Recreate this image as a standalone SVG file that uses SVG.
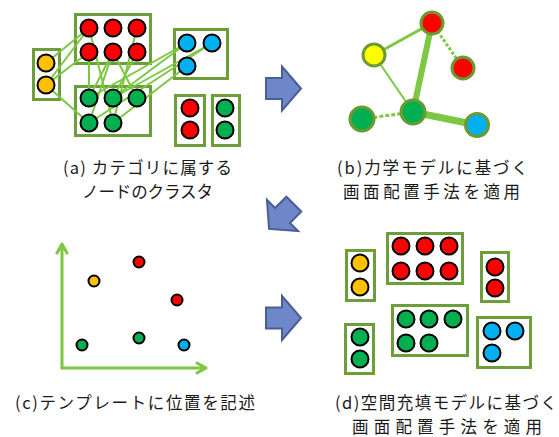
<svg xmlns="http://www.w3.org/2000/svg" width="559" height="437" viewBox="0 0 559 437">
<defs>
<style>
.box{fill:#fff;stroke:#6C9E3A;stroke-width:3}
.c{stroke:#000;stroke-width:2}
.cs{stroke:#000;stroke-width:2}
.r{fill:#FF0000}.y{fill:#FFC000}.b{fill:#00B0F0}.g{fill:#00B050}
.ln{stroke:#7DC843;stroke-width:2;fill:none}
.fc{stroke:#6A9A32;stroke-width:3}
.fe{stroke:#7DC843;fill:none}
.arr{fill:#6D87C8;stroke:#4A5E96;stroke-width:2;stroke-linejoin:miter}
.ax{stroke:#7DC843;stroke-width:3;fill:none;stroke-linecap:round;stroke-linejoin:round}
.t{font-family:"Noto Sans CJK JP","Noto Sans",sans-serif;font-size:16.5px;fill:#1a1a1a}
</style>
<polygon id="arrowShape" points="-16,-10.5 0,-10.5 0,-22 19,0 0,22 0,10.5 -16,10.5"/>
</defs>
<rect width="559" height="437" fill="#fff"/>

<!-- Panel (a) -->
<g id="panel-a">
<g id="a-boxes">
<rect class="box" x="75.5" y="14.5" width="75" height="49"/>
<rect class="box" x="33.5" y="49.5" width="26" height="50"/>
<rect class="box" x="174.5" y="29.5" width="53" height="49"/>
<rect class="box" x="75.5" y="86.5" width="75" height="49"/>
<rect class="box" x="175.5" y="95.5" width="29" height="50"/>
<rect class="box" x="212.5" y="95.5" width="27" height="50"/>
</g>
<g id="a-connectors">
<line class="ln" x1="46" y1="63" x2="89" y2="28" stroke-width="1.5"/>
<line class="ln" x1="46" y1="85" x2="89" y2="28"/>
<line class="ln" x1="46" y1="85" x2="89" y2="52" stroke-width="1.5"/>
<line class="ln" x1="46" y1="85" x2="89" y2="123"/>
<line class="ln" x1="89" y1="28" x2="113" y2="123"/>
<line class="ln" x1="89" y1="52" x2="89" y2="98"/>
<line class="ln" x1="113" y1="52" x2="89" y2="98"/>
<line class="ln" x1="113" y1="52" x2="137" y2="98" stroke-width="1.5"/>
<line class="ln" x1="113" y1="52" x2="89" y2="123"/>
<line class="ln" x1="137" y1="52" x2="113" y2="98"/>
<line class="ln" x1="137" y1="28" x2="113" y2="123"/>
<line class="ln" x1="187" y1="43" x2="89" y2="98"/>
<line class="ln" x1="187" y1="43" x2="113" y2="98"/>
<line class="ln" x1="212" y1="43" x2="113" y2="98"/>
<line class="ln" x1="212" y1="43" x2="89" y2="123" stroke-width="1.5"/>
<line class="ln" x1="187" y1="66" x2="113" y2="123" stroke-width="1.5"/>
</g>
<g id="a-nodes">
<circle class="c r" cx="89" cy="28" r="8.5"/><circle class="c r" cx="113" cy="28" r="8.5"/><circle class="c r" cx="137" cy="28" r="8.5"/>
<circle class="c r" cx="89" cy="52" r="8.5"/><circle class="c r" cx="113" cy="52" r="8.5"/><circle class="c r" cx="137" cy="52" r="8.5"/>
<circle class="c y" cx="46" cy="63" r="8.5"/><circle class="c y" cx="46" cy="85" r="8.5"/>
<circle class="c b" cx="187" cy="43" r="8.5"/><circle class="c b" cx="212" cy="43" r="8.5"/><circle class="c b" cx="187" cy="66" r="8.5"/>
<circle class="c g" cx="89" cy="98" r="8.5"/><circle class="c g" cx="113" cy="98" r="8.5"/><circle class="c g" cx="137" cy="98" r="8.5"/>
<circle class="c g" cx="89" cy="123" r="8.5"/><circle class="c g" cx="113" cy="123" r="8.5"/>
<circle class="c r" cx="190" cy="108" r="8.5"/><circle class="c r" cx="190" cy="130" r="8.5"/>
<circle class="c g" cx="225" cy="108" r="8.5"/><circle class="c g" cx="225" cy="130" r="8.5"/>
</g>
<text class="t" x="63" y="173.5" textLength="169">(a) カテゴリに属する</text>
<text class="t" x="82" y="197.5" textLength="131">ノードのクラスタ</text>
</g>

<!-- Panel (b) -->
<g id="panel-b">
<g id="b-connectors">
<line class="fe" x1="432" y1="23" x2="374" y2="55" stroke-width="3"/>
<line class="fe" x1="374" y1="55" x2="413" y2="112" stroke-width="2"/>
<line class="fe" x1="432" y1="23" x2="413" y2="112" stroke-width="6"/>
<line class="fe" x1="432" y1="23" x2="463" y2="68" stroke-width="3" stroke-dasharray="3 2"/>
<line class="fe" x1="413" y1="112" x2="362" y2="119" stroke-width="3" stroke-dasharray="4 2"/>
<line class="fe" x1="413" y1="112" x2="477" y2="125" stroke-width="7"/>
</g>
<g id="b-nodes">
<circle class="fc" cx="432" cy="23" r="11" fill="#FF0000"/>
<circle class="fc" cx="374" cy="55" r="11" fill="#FFFF00"/>
<circle class="fc" cx="463" cy="68" r="11" fill="#FF0000"/>
<circle class="fc" cx="413" cy="112" r="12" fill="#00B050"/>
<circle class="fc" cx="362" cy="119" r="12" fill="#00B050"/>
<circle class="fc" cx="477" cy="125" r="11.5" fill="#00B0F0"/>
</g>
<text class="t" x="337" y="173.5" textLength="191">(b)力学モデルに基づく</text>
<text class="t" x="343" y="197.5" textLength="177">画面配置手法を適用</text>
</g>

<!-- Transition arrows -->
<g id="arrows">
<use href="#arrowShape" class="arr" transform="translate(282,88.5)"/>
<use href="#arrowShape" class="arr" transform="translate(282.5,215.5) rotate(135)"/>
<use href="#arrowShape" class="arr" transform="translate(282,318)"/>
</g>

<!-- Panel (c) -->
<g id="panel-c">
<g id="c-axes">
<path class="ax" d="M62,368 V244 M57,253 L62,244 L67,253"/>
<path class="ax" d="M62,368 H206 M197,363 L206,368 L197,373"/>
</g>
<g id="c-nodes">
<circle class="cs y" cx="94" cy="281" r="5.5"/>
<circle class="cs r" cx="139" cy="262" r="5.5"/>
<circle class="cs r" cx="177" cy="300" r="5.5"/>
<circle class="cs g" cx="82" cy="345" r="5.5"/>
<circle class="cs g" cx="139" cy="338" r="5.5"/>
<circle class="cs b" cx="184" cy="345" r="5.5"/>
</g>
<text class="t" x="15" y="409" textLength="240">(c)テンプレートに位置を記述</text>
</g>

<!-- Panel (d) -->
<g id="panel-d">
<g id="d-boxes">
<rect class="box" x="346.5" y="250.5" width="28" height="50"/>
<rect class="box" x="387.5" y="233.5" width="75" height="50"/>
<rect class="box" x="481.5" y="252.5" width="27" height="49"/>
<rect class="box" x="345.5" y="324.5" width="28" height="49"/>
<rect class="box" x="392.5" y="305.5" width="75" height="50"/>
<rect class="box" x="477.5" y="317.5" width="53" height="50"/>
</g>
<g id="d-nodes">
<circle class="c y" cx="360" cy="263" r="8.5"/><circle class="c y" cx="360" cy="287" r="8.5"/>
<circle class="c r" cx="401" cy="246" r="8.5"/><circle class="c r" cx="425" cy="246" r="8.5"/><circle class="c r" cx="449" cy="246" r="8.5"/>
<circle class="c r" cx="401" cy="271" r="8.5"/><circle class="c r" cx="425" cy="271" r="8.5"/><circle class="c r" cx="449" cy="271" r="8.5"/>
<circle class="c r" cx="495" cy="267" r="8.5"/><circle class="c r" cx="495" cy="288" r="8.5"/>
<circle class="c g" cx="360" cy="337" r="8.5"/><circle class="c g" cx="360" cy="359" r="8.5"/>
<circle class="c g" cx="406" cy="319" r="8.5"/><circle class="c g" cx="429" cy="319" r="8.5"/><circle class="c g" cx="453" cy="319" r="8.5"/>
<circle class="c g" cx="406" cy="343" r="8.5"/><circle class="c g" cx="429" cy="343" r="8.5"/>
<circle class="c b" cx="492" cy="331" r="8.5"/><circle class="c b" cx="515" cy="331" r="8.5"/><circle class="c b" cx="492" cy="353" r="8.5"/>
</g>
<text class="t" x="335" y="408.5" textLength="222">(d)空間充填モデルに基づく</text>
<text class="t" x="352" y="432.5" textLength="190">画面配置手法を適用</text>
</g>
</svg>
